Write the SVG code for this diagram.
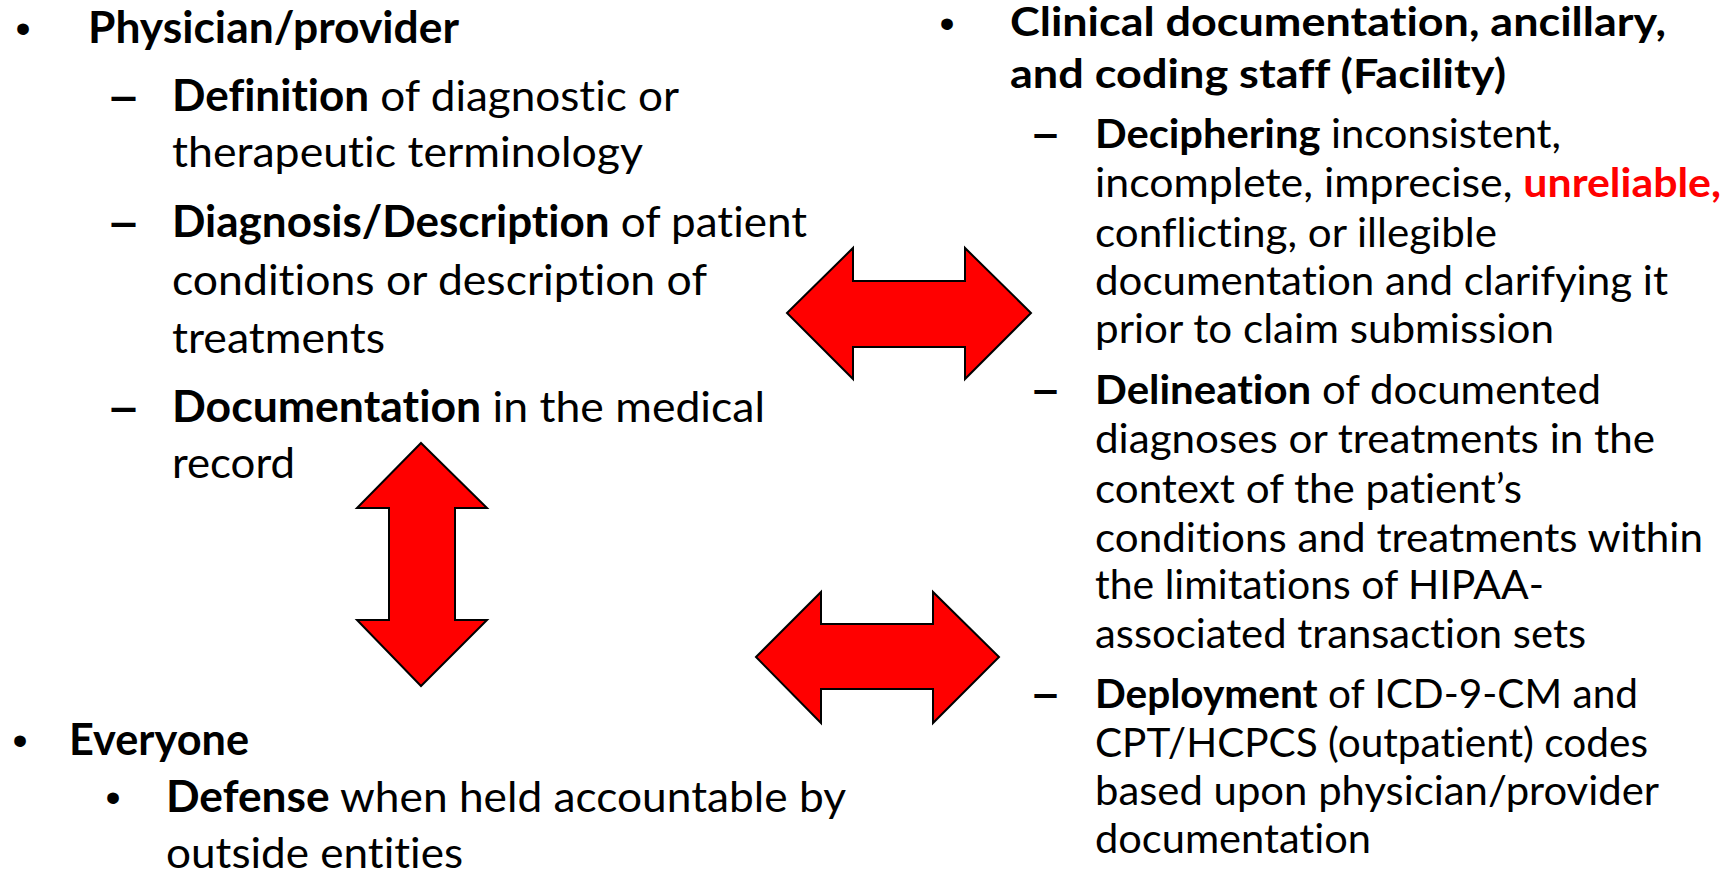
<svg xmlns="http://www.w3.org/2000/svg" width="1734" height="874" viewBox="0 0 1734 874">
<style>
text{font-family:Lato,"Liberation Sans",sans-serif;fill:#000;font-variant-ligatures:none;font-feature-settings:"liga" 0,"clig" 0}
.l{font-size:43px}
.r{font-size:40px}
.b{font-weight:bold}
.red{fill:#FF0000;font-weight:bold}
.bul{font-family:"Liberation Sans",Arial,sans-serif;text-anchor:middle}
.dash{font-family:"Liberation Sans",Arial,sans-serif;font-weight:bold}
.arrow{fill:#FF0000;stroke:#000;stroke-width:2;stroke-linejoin:miter}
</style>
<rect width="1734" height="874" fill="#fff"/>
<g id="physician">
<text class="bul l" x="23" y="43">•</text>
<text class="l b" x="88" y="43" textLength="371" lengthAdjust="spacingAndGlyphs">Physician/provider</text>
<text class="l dash" x="110" y="110" textLength="27" lengthAdjust="spacingAndGlyphs">–</text>
<text class="l" x="172" y="111" textLength="507" lengthAdjust="spacingAndGlyphs"><tspan class="b">Definition</tspan> of diagnostic or</text>
<text class="l" x="172" y="167" textLength="471" lengthAdjust="spacingAndGlyphs">therapeutic terminology</text>
<text class="l dash" x="110" y="236" textLength="27" lengthAdjust="spacingAndGlyphs">–</text>
<text class="l" x="172" y="237" textLength="635" lengthAdjust="spacingAndGlyphs"><tspan class="b">Diagnosis/Description</tspan> of patient</text>
<text class="l" x="172" y="295" textLength="535" lengthAdjust="spacingAndGlyphs">conditions or description of</text>
<text class="l" x="172" y="353" textLength="213" lengthAdjust="spacingAndGlyphs">treatments</text>
<text class="l dash" x="110" y="421" textLength="27" lengthAdjust="spacingAndGlyphs">–</text>
<text class="l" x="172" y="422" textLength="593" lengthAdjust="spacingAndGlyphs"><tspan class="b">Documentation</tspan> in the medical</text>
<text class="l" x="172" y="478" textLength="123" lengthAdjust="spacingAndGlyphs">record</text>
</g>
<g id="everyone">
<text class="bul l" x="20" y="755">•</text>
<text class="l b" x="69" y="755" textLength="180" lengthAdjust="spacingAndGlyphs">Everyone</text>
<text class="bul l" x="113" y="812">•</text>
<text class="l" x="166" y="812" textLength="680" lengthAdjust="spacingAndGlyphs"><tspan class="b">Defense</tspan> when held accountable by</text>
<text class="l" x="166" y="868" textLength="297" lengthAdjust="spacingAndGlyphs">outside entities</text>
</g>
<g id="facility">
<text class="bul l" x="947" y="38">•</text>
<text class="r b" x="1010" y="36" textLength="656" lengthAdjust="spacingAndGlyphs">Clinical documentation, ancillary,</text>
<text class="r b" x="1010" y="88" textLength="496" lengthAdjust="spacingAndGlyphs">and coding staff (Facility)</text>
<text class="r dash" x="1033" y="147" textLength="25" lengthAdjust="spacingAndGlyphs">–</text>
<text class="r" x="1095" y="148" textLength="466" lengthAdjust="spacingAndGlyphs"><tspan class="b">Deciphering</tspan> inconsistent,</text>
<text class="r" x="1095" y="197" textLength="626" lengthAdjust="spacingAndGlyphs">incomplete, imprecise, <tspan class="red">unreliable,</tspan></text>
<text class="r" x="1095" y="247" textLength="402" lengthAdjust="spacingAndGlyphs">conflicting, or illegible</text>
<text class="r" x="1095" y="295" textLength="573" lengthAdjust="spacingAndGlyphs">documentation and clarifying it</text>
<text class="r" x="1095" y="343" textLength="459" lengthAdjust="spacingAndGlyphs">prior to claim submission</text>
<text class="r dash" x="1033" y="403" textLength="25" lengthAdjust="spacingAndGlyphs">–</text>
<text class="r" x="1095" y="404" textLength="506" lengthAdjust="spacingAndGlyphs"><tspan class="b">Delineation</tspan> of documented</text>
<text class="r" x="1095" y="453" textLength="560" lengthAdjust="spacingAndGlyphs">diagnoses or treatments in the</text>
<text class="r" x="1095" y="503" textLength="427" lengthAdjust="spacingAndGlyphs">context of the patient’s</text>
<text class="r" x="1095" y="552" textLength="608" lengthAdjust="spacingAndGlyphs">conditions and treatments within</text>
<text class="r" x="1095" y="599" textLength="449" lengthAdjust="spacingAndGlyphs">the limitations of HIPAA-</text>
<text class="r" x="1095" y="648" textLength="491" lengthAdjust="spacingAndGlyphs">associated transaction sets</text>
<text class="r dash" x="1033" y="707" textLength="25" lengthAdjust="spacingAndGlyphs">–</text>
<text class="r" x="1095" y="708" textLength="543" lengthAdjust="spacingAndGlyphs"><tspan class="b">Deployment</tspan> of ICD-9-CM and</text>
<text class="r" x="1095" y="757" textLength="553" lengthAdjust="spacingAndGlyphs">CPT/HCPCS (outpatient) codes</text>
<text class="r" x="1095" y="805" textLength="564" lengthAdjust="spacingAndGlyphs">based upon physician/provider</text>
<text class="r" x="1095" y="853" textLength="276" lengthAdjust="spacingAndGlyphs">documentation</text>
</g>
<g id="connectors">
<polygon id="arrow-top" class="arrow" points="787,313 853,248 853,281 965,281 965,248 1031,313 965,379 965,347 853,347 853,379"/>
<polygon id="arrow-bottom" class="arrow" points="756,657 821,592 821,624 933,624 933,592 999,657 933,723 933,689 821,689 821,723"/>
<polygon id="arrow-vertical" class="arrow" points="421,443 487,508 455,508 455,620 487,620 421,686 357,620 389,620 389,508 357,508"/>
</g>
</svg>
